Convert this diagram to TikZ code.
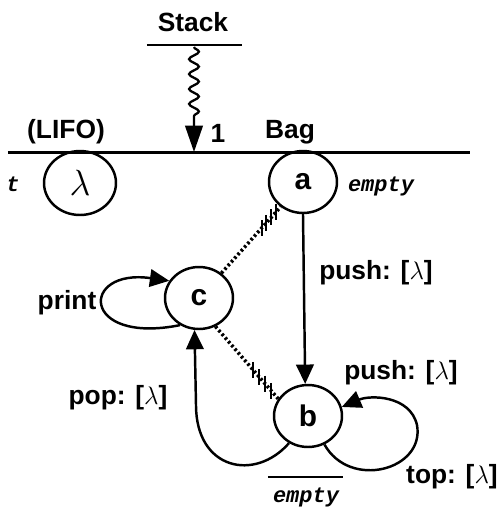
\documentclass[tikz,border=0pt]{standalone}
\usepackage{fontspec}
\setmainfont{Liberation Sans}
\newfontfamily\codefont{Liberation Mono}
\usetikzlibrary{arrows.meta,decorations.pathmorphing,shapes.geometric,calc}
\tikzset{state/.style={draw, ellipse, line width=1.4pt, minimum width=1.36cm, minimum height=1.24cm, inner sep=0pt, font=\bfseries\fontsize{17}{19}\selectfont},
         lbl/.style={font=\bfseries\fontsize{15}{17}\selectfont},
         code/.style={font=\codefont\bfseries\itshape\fontsize{12.5}{14}\selectfont},
         arr/.style={line width=1.4pt, -{Triangle[length=11pt,width=10pt]}},
         link/.style={line width=2pt, dash pattern=on 1.4pt off 1.4pt},
         hatch/.style={line width=1.1pt}}

\begin{document}
\begin{tikzpicture}[x=0.02cm,y=-0.02cm]
    \useasboundingbox (0,0) rectangle (500,512);
    % header: Stack -> Bag
    \node[lbl] (stack) at (193,22) {Stack};
    \coordinate (sl) at (147,45); \coordinate (sr) at (242,45);
    \draw[line width=1.5pt] (sl) -- (sr);
    \node[lbl] (lifo) at (66,132) {(LIFO)};
    \node[lbl] (one) at (218,133) {1};
    \node[lbl] (bag) at (290,132) {Bag};
    \coordinate (ml) at (8,152); \coordinate (mr) at (470,152);
    \draw[line width=1.7pt] (ml) -- (mr);
    \coordinate (src) at (194,47); \coordinate (hit) at (194,152);
    \draw[line width=1.3pt, -{Triangle[length=15pt,width=10pt]}, decorate,
          decoration={snake, amplitude=2.8pt, segment length=8.5pt, post length=19pt}] (src) -- (hit);

    % states
    \node[code] (t) at (13,184) {t};
    \node[state, minimum width=1.44cm, minimum height=1.28cm, font=\fontsize{21}{23}\selectfont] (lam) at (80,183) {$\lambda$};
    \node[state] (a) at (303,182) {a};
    \node[code] (ea) at (381,186) {empty};
    \node[state] (c) at (199,298) {c};
    \node[state] (b) at (308,416) {b};

    % transitions
    \draw[arr] (a.south) -- (b.95);
    \node[lbl] (push1) at (376,273) {push: [$\lambda$]};
    \draw[arr] (c.235) .. controls (80,345) and (80,268) .. (c.150);
    \node[lbl] (print) at (67,303) {print};
    \draw[arr] (b.235) .. controls (255,482) and (196,470) .. (196,405) -- (c.262);
    \node[lbl] (pop) at (118,398) {pop: [$\lambda$]};
    \draw[arr] (b.300) .. controls (350,490) and (425,470) .. (417,425) .. controls (410,395) and (370,395) .. (b.15);
    \node[lbl] (push2) at (401,373) {push: [$\lambda$]};
    \node[lbl] (top) at (452,477) {top: [$\lambda$]};
    \coordinate (el) at (268,477); \coordinate (er) at (343,477);
    \draw[line width=0.9pt] (el) -- (er);
    \node[code] (eb) at (306,497) {empty};

    % dashed links with hatches
    \draw[link] (c.48) -- (a.228);
    \foreach \p in {0.68,0.76,0.84,0.92}{
        \coordinate (h) at ($(c.48)!\p!(a.228)$);
        \draw[hatch] ($(h)+(0,-8)$) -- ($(h)+(0,8)$);
    }
    \draw[link] (c.-60) -- (b.150);
    \foreach \p in {0.6,0.7,0.79,0.89}{
        \coordinate (h) at ($(c.-60)!\p!(b.150)$);
        \draw[hatch] ($(h)+(0,-8)$) -- ($(h)+(0,8)$);
    }
\end{tikzpicture}
\end{document}
